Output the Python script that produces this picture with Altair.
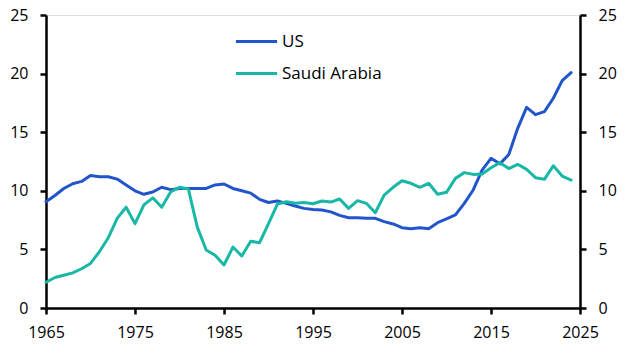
import altair as alt
import pandas as pd

years = list(range(1965, 2025))
us = [9.07, 9.6, 10.2, 10.6, 10.8, 11.3, 11.2, 11.2, 11.0, 10.5,
      10.0, 9.7, 9.9, 10.3, 10.1, 10.2, 10.2, 10.2, 10.2, 10.5,
      10.58, 10.2, 10.0, 9.8, 9.27, 9.0, 9.13, 8.93, 8.7, 8.5,
      8.4, 8.36, 8.2, 7.9, 7.7, 7.7, 7.65, 7.65, 7.37, 7.17,
      6.85, 6.77, 6.85, 6.77, 7.28, 7.6, 7.94, 8.93, 10.07, 11.77,
      12.77, 12.3, 13.1, 15.33, 17.12, 16.5, 16.75, 17.9, 19.4, 20.08]
saudi = [2.2, 2.6, 2.8, 3.0, 3.35, 3.8, 4.8, 6.0, 7.65, 8.6,
         7.2, 8.8, 9.4, 8.6, 9.9, 10.3, 10.15, 6.9, 4.95, 4.5,
         3.67, 5.2, 4.44, 5.7, 5.57, 7.2, 8.87, 9.07, 8.93, 9.0,
         8.9, 9.13, 9.04, 9.3, 8.5, 9.16, 8.93, 8.13, 9.64, 10.3,
         10.86, 10.64, 10.3, 10.64, 9.7, 9.87, 11.06, 11.55, 11.4, 11.43,
         11.97, 12.4, 11.9, 12.26, 11.83, 11.12, 10.98, 12.14, 11.26, 10.92]
series_names = ["US", "Saudi Arabia"]
colors = ["#2255CC", "#19B8A6"]
x_ticks = [1965, 1975, 1985, 1995, 2005, 2015, 2025]
y_ticks = [0, 5, 10, 15, 20, 25]

df = pd.concat([
    pd.DataFrame({"year": years, "value": us, "series": "US"}),
    pd.DataFrame({"year": years, "value": saudi, "series": "Saudi Arabia"}),
])

FONT = "Open Sans"
x_scale = alt.Scale(domain=[1965, 2025], nice=False, zero=False)
y_scale = alt.Scale(domain=[0, 25], nice=False)

x_enc = alt.X("year:Q", scale=x_scale,
              axis=alt.Axis(values=x_ticks, format="d", title=None, grid=False,
                            domainColor="black", domainWidth=2.5, tickColor="black",
                            tickWidth=2.5, tickSize=6, labelFontSize=16, labelFont=FONT,
                            labelColor="black", labelPadding=10, labelFlush=False))


def y_axis(orient):
    return alt.Axis(values=y_ticks, title=None, grid=False, orient=orient,
                    domainColor="black", domainWidth=2.5, tickColor="black",
                    tickWidth=2.5, tickSize=6, labelFontSize=16, labelFont=FONT,
                    labelColor="black", labelPadding=12)


lines = alt.Chart(df).mark_line(strokeWidth=3, strokeCap="round", strokeJoin="round").encode(
    x=x_enc,
    y=alt.Y("value:Q", scale=y_scale, axis=y_axis("left")),
    color=alt.Color("series:N", scale=alt.Scale(domain=series_names, range=colors),
                    sort=series_names,
                    legend=alt.Legend(title=None, orient="none", legendX=188, legendY=4,
                                      symbolType="stroke", symbolSize=1700,
                                      symbolStrokeWidth=3, labelFontSize=17,
                                      labelFont=FONT, labelColor="black",
                                      rowPadding=1, labelOffset=3)),
    detail="series:N",
)

right = alt.Chart(df).mark_line(opacity=0).encode(
    x=x_enc,
    y=alt.Y("value:Q", scale=y_scale, axis=y_axis("right")),
    detail="series:N",
)

chart = alt.layer(lines, right).resolve_scale(y="independent").properties(
    width=534, height=293,
    autosize=alt.AutoSizeParams(type="none"),
    padding={"left": 38, "top": 7, "right": 49, "bottom": 41},
).configure_view(stroke=None).configure(background="white")

chart.save("out.html", embed_options={"renderer": "svg", "actions": False})
